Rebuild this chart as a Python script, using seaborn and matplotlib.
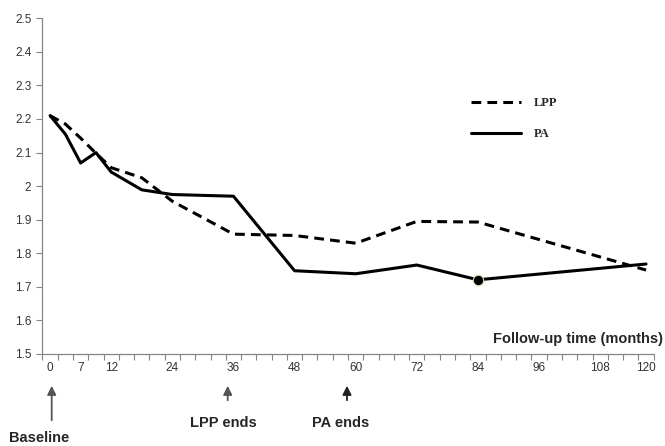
import matplotlib
matplotlib.use('Agg')
import matplotlib.pyplot as plt
import seaborn as sns
import pandas as pd
import numpy as np
from matplotlib.lines import Line2D

# category slots on the x axis (Excel-style category axis, 40 slots)
visit_slot = [0, 1, 2, 3, 4, 6, 8, 12, 16, 20, 24, 28, 39]
lpp_values = [2.21, 2.185, 2.143, 2.098, 2.055, 2.025, 1.955, 1.857, 1.853, 1.830, 1.895, 1.893, 1.750]
pa_values = [2.21, 2.155, 2.069, 2.100, 2.042, 1.989, 1.975, 1.970, 1.748, 1.739, 1.765, 1.721, 1.768]

# x tick labels (months) and the slot each one sits on
month_labels = ['0', '7', '12', '24', '36', '48', '60', '72', '84', '96', '108', '120']
month_slots = [0, 2, 4, 8, 12, 16, 20, 24, 28, 32, 36, 39]
n_slots = 40

y_ticks = [1.5, 1.6, 1.7, 1.8, 1.9, 2.0, 2.1, 2.2, 2.3, 2.4, 2.5]
y_labels = ['1.5', '1.6', '1.7', '1.8', '1.9', '2', '2.1', '2.2', '2.3', '2.4', '2.5']

df = pd.DataFrame({'slot': visit_slot, 'LPP': lpp_values, 'PA': pa_values})

sns.set_style('white')
plt.rcParams['font.family'] = ['Liberation Sans', 'DejaVu Sans']

fig = plt.figure(figsize=(6.65, 4.46), dpi=100)
ax = fig.add_axes([0.0638, 0.2063, 0.9192, 0.7527])

sns.lineplot(data=df, x='slot', y='LPP', ax=ax, color='black', linewidth=2.2,
             linestyle=(0, (3.2, 2)))
sns.lineplot(data=df, x='slot', y='PA', ax=ax, color='black', linewidth=2.2)

# single highlighted point on PA at 84 months
i84 = month_labels.index('84')
mark_slot = month_slots[i84]
ax.plot([mark_slot], [pa_values[visit_slot.index(mark_slot)]], 'o', color='black',
        markersize=7.5, markeredgecolor='#d9d3a8', markeredgewidth=0.8, zorder=5)

ax.set_xlim(-0.5, n_slots - 0.5)
ax.set_ylim(1.5, 2.5)
ax.set_xticks(month_slots)
ax.set_xticklabels(month_labels)
ax.set_xticks(np.arange(-0.5, n_slots, 1), minor=True)
ax.set_yticks(y_ticks)
ax.set_yticklabels(y_labels)
ax.set_xlabel('')
ax.set_ylabel('')

ax.tick_params(axis='x', which='major', length=0, pad=6, labelsize=8.5, labelcolor='#333333')
ax.tick_params(axis='x', which='minor', length=4, width=0.8, color='#868686', direction='out', bottom=True)
ax.tick_params(axis='y', which='major', length=4, width=0.8, color='#868686', direction='out',
               left=True, pad=4, labelsize=8.5, labelcolor='#333333')

for side in ['top', 'right']:
    ax.spines[side].set_visible(False)
for side in ['left', 'bottom']:
    ax.spines[side].set_color('#868686')
    ax.spines[side].set_linewidth(0.9)

handles = [Line2D([], [], color='black', linewidth=2.2, linestyle=(0, (3.2, 2))),
           Line2D([], [], color='black', linewidth=2.2)]
fig.legend(handles, ['LPP', 'PA'], loc='upper left', bbox_to_anchor=(0.709, 0.782),
           frameon=False, borderpad=0, borderaxespad=0, handlelength=4.0, handletextpad=1.0,
           labelspacing=1.5, prop={'family': 'Liberation Serif', 'weight': 'bold', 'size': 9})

fig.text(0.997, 0.240, 'Follow-up time (months)', ha='right', va='center',
         fontsize=10.5, fontweight='bold')

# arrows and labels under the x axis
arrow_style = dict(arrowstyle='-|>', mutation_scale=13, linewidth=1.3)
notes = [('Baseline', 51.7, 23, 39, 8), ('LPP ends', 227.7, 43, 223.5, 23), ('PA ends', 347, 43, 341, 23)]
for text, ax_x, y0, tx, ty in notes:
    ax.annotate('', xy=(ax_x, 63), xytext=(ax_x, y0), xycoords='figure pixels',
                textcoords='figure pixels',
                arrowprops=dict(color='#222222' if text == 'PA ends' else '#555555', **arrow_style))
    fig.text(tx / 665, ty / 446, text, ha='center', va='center', fontsize=10.5, fontweight='bold')

fig.savefig('out.png', dpi=100)
plt.close(fig)
